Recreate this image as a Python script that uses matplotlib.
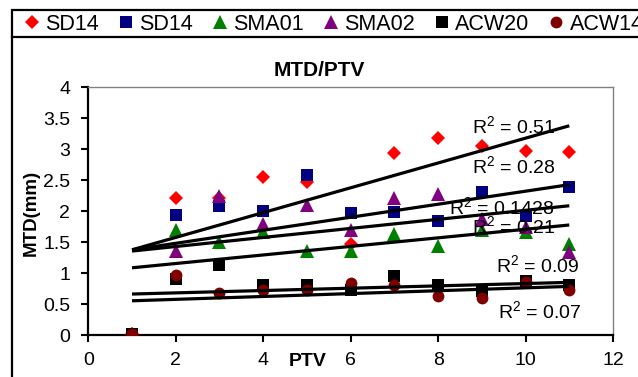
"""MTD vs PTV scatter with linear trendlines (Excel-style chart)."""

import matplotlib
matplotlib.use("Agg")
import matplotlib.pyplot as plt
from matplotlib.patches import Rectangle
from matplotlib.lines import Line2D

plt.rcParams["font.family"] = ["Liberation Sans", "DejaVu Sans"]
plt.rcParams["mathtext.default"] = "regular"

# --- data ---
ptv = [1, 2, 3, 4, 5, 6, 7, 8, 9, 10, 11]

sd14_a = [0.02, 2.21, 2.22, 2.55, 2.47, 1.47, 2.94, 3.19, 3.06, 2.98, 2.96]
sd14_b = [0.02, 1.94, 2.08, 2.00, 2.58, 1.98, 1.99, 1.85, 2.32, 1.93, 2.40]
sma01 = [0.02, 1.70, 1.50, 1.66, 1.36, 1.36, 1.63, 1.44, 1.70, 1.66, 1.47]
sma02 = [0.02, 1.36, 2.24, 1.79, 2.10, 1.70, 2.21, 2.28, 1.87, 1.75, 1.34]
acw20 = [0.02, 0.91, 1.14, 0.82, 0.82, 0.74, 0.96, 0.82, 0.71, 0.87, 0.82]
acw14 = [0.02, 0.98, 0.68, 0.74, 0.74, 0.84, 0.82, 0.63, 0.60, 0.86, 0.74]

series_labels = ["SD14", "SD14", "SMA01", "SMA02", "ACW20", "ACW14"]

# trendline values at PTV = 1 and PTV = 11 (as drawn in the reference)
trend_x = [1, 11]
trend_start = [1.38, 1.38, 1.09, 1.36, 0.667, 0.558]
trend_end = [3.38, 2.43, 1.78, 2.09, 0.855, 0.79]
r2_text = ["0.51", "0.28", "0.21", "0.1428", "0.09", "0.07"]

# --- styling ---
colors = ["#FF0000", "#000080", "#008000", "#800080", "#000000", "#800000"]
markers = ["D", "s", "^", "^", "s", "o"]
msizes = [7.5, 8, 9.5, 9.5, 8, 8.5]
r2_pos = [(8.78, 3.38), (8.78, 2.73), (8.78, 1.76), (8.26, 2.07),
          (9.33, 1.14), (9.37, 0.385)]

W, H = 638, 377
fig = plt.figure(figsize=(W / 100, H / 100), dpi=100)
ax = fig.add_axes([88.3 / W, 1 - 335.4 / H, (613 - 88.3) / W, (335.4 - 87.3) / H])

all_y = [sd14_a, sd14_b, sma01, sma02, acw20, acw14]
handles = []
for ys, c, m, ms, lab in zip(all_y, colors, markers, msizes, series_labels):
    ax.plot(ptv, ys, linestyle="none", marker=m, color=c, markersize=ms,
            markeredgewidth=0, zorder=3)
    handles.append(Line2D([], [], linestyle="none", marker=m, color=c,
                          markersize=ms, markeredgewidth=0, label=lab))

for s, e in zip(trend_start, trend_end):
    ax.plot(trend_x, [s, e], color="black", linewidth=2.3, zorder=4,
            solid_capstyle="butt")

for txt, (tx, ty) in zip(r2_text, r2_pos):
    ax.text(tx, ty, "R$^2$ = " + txt, fontsize=14, ha="left", va="center",
            zorder=5)

ax.set_xlim(0, 12)
ax.set_ylim(0, 4)
ax.set_xticks(range(0, 13, 2))
ax.set_yticks([i * 0.5 for i in range(9)])
ax.set_yticklabels(["%g" % (i * 0.5) for i in range(9)])
ax.tick_params(axis="both", direction="out", length=5, width=1.5,
               labelsize=14, color="black")
ax.tick_params(axis="y", pad=8)
ax.tick_params(axis="x", pad=7)
for side in ["left", "bottom"]:
    ax.spines[side].set_color("black")
    ax.spines[side].set_linewidth(1.6)
for side in ["top", "right"]:
    ax.spines[side].set_color("#808080")
    ax.spines[side].set_linewidth(1.0)

fig.text(319 / W, 1 - 70.5 / H, "MTD/PTV", fontsize=15, fontweight="bold",
         ha="center", va="center")
fig.text(307.5 / W, 1 - 361.7 / H, "PTV", fontsize=14, fontweight="bold",
         ha="center", va="center")
fig.text(31.7 / W, 1 - 213 / H, "MTD(mm)", fontsize=13.5, fontweight="bold",
         ha="center", va="center", rotation=90)

# outer chart border and legend strip
fig.add_artist(Rectangle((12 / W, -0.1), 1.2, 1.1 - 10 / H, transform=fig.transFigure,
                         fill=False, edgecolor="black", linewidth=1.6))
fig.add_artist(Line2D([12 / W, 1.0], [1 - 37 / H, 1 - 37 / H],
                      transform=fig.transFigure, color="black", linewidth=1.6))

fig.legend(handles=handles, loc="center left", ncol=6, frameon=False,
           bbox_to_anchor=(25.3 / W, 1 - 24.5 / H), borderpad=0,
           borderaxespad=0, fontsize=15.5, handlelength=0.6,
           handletextpad=0.32, columnspacing=0.95)

fig.savefig("out.png", dpi=100)
